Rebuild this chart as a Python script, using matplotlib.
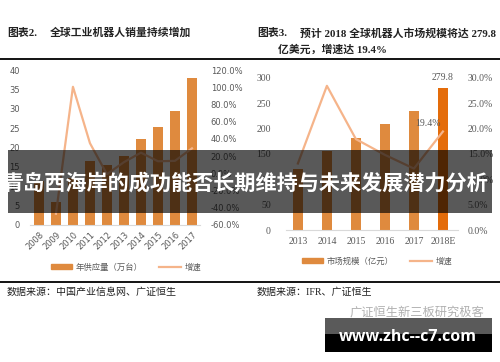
import numpy as np
import matplotlib
matplotlib.use("Agg")
import matplotlib.pyplot as plt
from matplotlib.patches import Rectangle, Patch
from matplotlib.lines import Line2D
from matplotlib.ticker import FuncFormatter

plt.rcParams['font.family'] = ['Noto Sans CJK SC', 'DejaVu Sans']

# ---- data ----
years_left = ['2008', '2009', '2010', '2011', '2012', '2013', '2014', '2015', '2016', '2017']
sales = [11.3, 6.0, 12.1, 16.6, 15.6, 17.8, 22.1, 25.3, 29.3, 37.9]
growth_years_left = ['2009', '2010', '2011', '2012', '2013', '2014', '2015', '2016', '2017']
growth_left = [-47.0, 100.5, 35.0, -1.0, 13.0, 24.0, 14.0, 14.5, 29.0]

years_right = ['2013', '2014', '2015', '2016', '2017', '2018E']
market = [120.0, 155.5, 182.0, 209.5, 235.0, 279.8]
growth_right = [13.1, 28.4, 17.9, 14.8, 12.1, 19.4]

W, H = 500, 362
fig = plt.figure(figsize=(W / 100, H / 100), dpi=100)

def rect(l, t, r, b):
    return [l / W, 1 - b / H, (r - l) / W, (b - t) / H]

BAR = '#DF8A3E'
BAR_E = '#E46C0A'
LINE = '#F5B48A'
TXT = '#595959'

def style(ax, fam, size):
    for s in ['top', 'left', 'right']:
        ax.spines[s].set_visible(False)
    ax.spines['bottom'].set_color('#D9D9D9')
    ax.tick_params(length=0, labelsize=size, colors=TXT)
    for lab in ax.get_xticklabels() + ax.get_yticklabels():
        lab.set_family(fam)

# ---- left chart ----
ax1 = fig.add_axes(rect(29.6, 70, 199.6, 225))
xl = np.arange(len(years_left))
ax1.bar(xl, sales, width=0.55, color=BAR, zorder=2)
ax1.set_xlim(-0.55, 9.45)
ax1.set_ylim(0, 40)
ax1.set_yticks(np.arange(0, 41, 5))
ax1.set_xticks(xl)
ax1.set_xticklabels(years_left, rotation=45, ha='right', va='top', rotation_mode='anchor')
ax1b = ax1.twinx()
gx = [years_left.index(y) for y in growth_years_left]
ax1b.plot(gx, growth_left, color=LINE, lw=1.6, zorder=3)
ax1b.set_ylim(-60, 120)
ax1b.set_yticks(np.arange(-60, 121, 20))
ax1b.yaxis.set_major_formatter(FuncFormatter(lambda v, p: f'{v:.1f}%'))
style(ax1, ['DejaVu Sans'], 6)
style(ax1b, ['DejaVu Sans'], 6)
ax1.tick_params(axis='y', pad=7)
ax1.tick_params(axis='x', pad=4)
ax1b.tick_params(axis='y', pad=8)
ax1b.spines['bottom'].set_visible(False)

leg1 = ax1.legend(handles=[Patch(color=BAR), Line2D([], [], color=LINE, lw=1.6)],
                  labels=['年供应量（万台）', '增速'], ncol=2, frameon=False,
                  loc='center', bbox_to_anchor=(126 / W, 1 - 267 / H),
                  bbox_transform=fig.transFigure, fontsize=6, handlelength=2.6,
                  handleheight=0.5, columnspacing=2.0, handletextpad=0.4)
for t in leg1.get_texts():
    t.set_color(TXT)

# ---- right chart ----
ax2 = fig.add_axes(rect(286, 77.7, 458, 230))
xr = np.arange(len(years_right))
colors_r = [BAR] * (len(years_right) - 1) + [BAR_E]
ax2.bar(xr, market, width=0.35, color=colors_r, zorder=2)
ax2.set_xlim(-0.41, 5.52)
ax2.set_ylim(0, 300)
ax2.set_yticks(np.arange(0, 301, 50))
ax2.set_xticks(xr)
ax2.set_xticklabels(years_right)
ax2b = ax2.twinx()
ax2b.plot(xr, growth_right, color=LINE, lw=1.6, zorder=3)
ax2b.set_ylim(0, 30)
ax2b.set_yticks(np.arange(0, 31, 5))
ax2b.yaxis.set_major_formatter(FuncFormatter(lambda v, p: f'{v:.1f}%'))
serif = ['Liberation Serif', 'DejaVu Serif']
style(ax2, serif, 7)
style(ax2b, serif, 7)
ax2.tick_params(axis='y', pad=11)
ax2.tick_params(axis='x', pad=5)
ax2b.tick_params(axis='y', pad=7)
ax2b.spines['bottom'].set_visible(False)
ax2.annotate(f'{market[-1]:.1f}', (xr[-1], 300), ha='center', va='center',
             fontsize=7, color=TXT, family=serif, annotation_clip=False)
ax2b.annotate(f'{growth_right[-1]:.1f}%', (xr[-1], growth_right[-1]),
              xytext=(-11, 6), textcoords='offset points', ha='center', va='center',
              fontsize=7, color=TXT, family=serif)

leg2 = ax2.legend(handles=[Patch(color=BAR), Line2D([], [], color=LINE, lw=1.6)],
                  labels=['市场规模（亿元）', '增速'], ncol=2, frameon=False,
                  loc='center', bbox_to_anchor=(377 / W, 1 - 261 / H),
                  bbox_transform=fig.transFigure, fontsize=6, handlelength=2.6,
                  handleheight=0.5, columnspacing=2.0, handletextpad=0.4)
for t in leg2.get_texts():
    t.set_color(TXT)

# ---- titles / sources ----
tfam = ['Liberation Serif', 'Noto Sans CJK SC']
def ftext(x, y, s, **kw):
    fig.text(x / W, 1 - y / H, s, **kw)

ftext(7, 33, '图表2.', fontsize=7.8, weight='bold', family=tfam, va='center', color='#222222')
ftext(50, 33, '全球工业机器人销量持续增加', fontsize=7.8, weight='bold', family=tfam, va='center', color='#222222')
ftext(257, 33, '图表3.', fontsize=7.8, weight='bold', family=tfam, va='center', color='#222222')
ftext(300, 33, '预计 2018 全球机器人市场规模将达 279.8', fontsize=7.8, weight='bold', family=tfam, va='center', color='#222222')
ftext(278, 50, '亿美元，增速达 19.4%', fontsize=7.8, weight='bold', family=tfam, va='center', color='#222222')
ftext(7, 292, '数据来源：中国产业信息网、广证恒生', fontsize=7.2, family=tfam, va='center', color='#222222')
ftext(257, 292, '数据来源：IFR、广证恒生', fontsize=7.2, family=tfam, va='center', color='#222222')

for yy in (59, 282):
    fig.add_artist(Line2D([0, 1], [1 - yy / H, 1 - yy / H], color='black', lw=1.3,
                          transform=fig.transFigure))

# ---- banner ----
fig.add_artist(Rectangle((8 / W, 1 - 213 / H), 484 / W, 63 / H, transform=fig.transFigure,
                         facecolor='black', alpha=0.65, edgecolor='none', zorder=10))
ftext(246, 183, '青岛西海岸的成功能否长期维持与未来发展潜力分析', fontsize=15.2, weight='bold',
      family=['Noto Sans CJK SC'], color='white', ha='center', va='center', zorder=11)

# ---- watermark ----
ftext(417, 312, '广证恒生新三板研究极客', fontsize=8.8, family=['Noto Sans CJK SC'],
      color='#B0B0B0', ha='center', va='center')
fig.add_artist(Rectangle((325 / W, 1 - 334 / H), 167 / W, 16 / H, transform=fig.transFigure,
                         facecolor='#5A5A5A', edgecolor='none', zorder=10))
fig.add_artist(Rectangle((325 / W, 1 - 352 / H), 167 / W, 18 / H, transform=fig.transFigure,
                         facecolor='black', edgecolor='none', zorder=10))
ftext(408, 337, 'www.zhc--c7.com', fontsize=11.5, weight='bold', family=['Open Sans', 'DejaVu Sans'],
      color='white', ha='center', va='center', zorder=11)

fig.savefig('out.png', dpi=100)
